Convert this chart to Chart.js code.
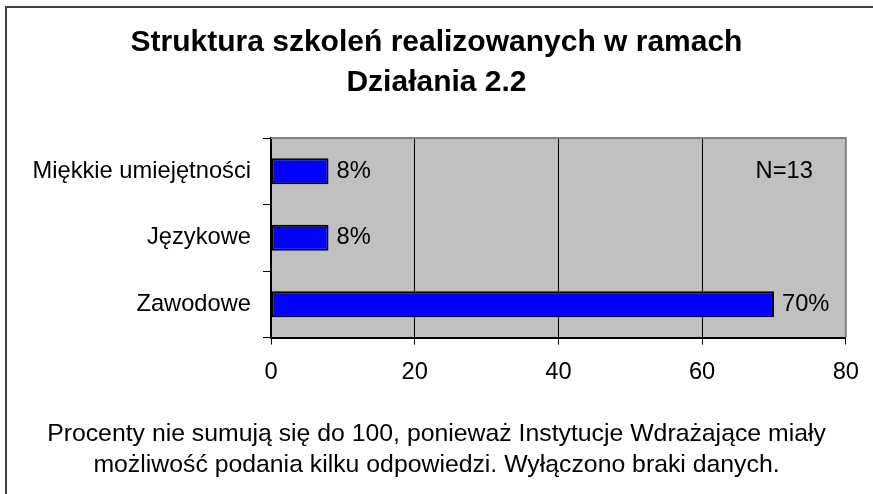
<!DOCTYPE html>
<html>
<head>
<meta charset="utf-8">
<script src="https://cdn.jsdelivr.net/npm/chart.js@4.4.1/dist/chart.umd.min.js"></script>
<style>
  html, body { margin: 0; padding: 0; background: #fff; overflow: hidden; }
  #wrap { position: relative; width: 873px; height: 494px; }
  #frame { position: absolute; left: 5px; top: 6px; width: 900px; height: 520px; border-left: 2px solid #404040; border-top: 2px solid #404040; box-sizing: border-box; }
  canvas { position: absolute; left: 0; top: 0; }
</style>
</head>
<body>
<div id="wrap">
  <div id="frame"></div>
  <canvas id="c" width="873" height="494"></canvas>
</div>
<script>
const titleLines = ["Struktura szkoleń realizowanych w ramach", "Działania 2.2"];
const categories = ["Miękkie umiejętności", "Językowe", "Zawodowe"];
const values = [8, 8, 70];
const valueLabels = ["8%", "8%", "70%"];
const xTicks = [0, 20, 40, 60, 80];
const noteText = "N=13";
const footnoteLines = ["Procenty nie sumują się do 100, ponieważ Instytucje Wdrażające miały", "możliwość podania kilku odpowiedzi. Wyłączono braki danych."];

const FONT = "'Liberation Sans', Arial, sans-serif";
const baseSize = 23.7;

const plotDeco = {
  id: 'plotDeco',
  beforeDraw(chart) {
    const { ctx, chartArea: a } = chart;
    ctx.save();
    ctx.fillStyle = '#C0C0C0';
    ctx.fillRect(a.left, a.top, a.right - a.left, a.bottom - a.top);
    ctx.restore();
  },
  afterDatasetsDraw(chart) {
    const { ctx, chartArea: a } = chart;
    const meta = chart.getDatasetMeta(0);
    ctx.save();
    ctx.font = baseSize + 'px ' + FONT;
    ctx.fillStyle = '#000';
    ctx.textBaseline = 'middle';
    ctx.textAlign = 'left';
    meta.data.forEach((bar, i) => {
      ctx.fillText(valueLabels[i], bar.x + 8, bar.y);
    });
    const yS = chart.scales.y;
    ctx.textAlign = 'right';
    ctx.fillText(noteText, a.right - 33, yS.getPixelForValue(0));
    ctx.strokeStyle = '#808080';
    ctx.lineWidth = 2;
    ctx.beginPath();
    ctx.moveTo(a.left, a.top);
    ctx.lineTo(a.right, a.top);
    ctx.lineTo(a.right, a.bottom);
    ctx.stroke();
    ctx.restore();
  }
};

new Chart(document.getElementById('c'), {
  type: 'bar',
  data: {
    labels: categories,
    datasets: [{
      data: values,
      backgroundColor: '#0000FF',
      borderColor: '#000000',
      borderWidth: 2,
      borderSkipped: false,
      barPercentage: 0.39,
      categoryPercentage: 1.0
    }]
  },
  options: {
    indexAxis: 'y',
    responsive: false,
    animation: false,
    devicePixelRatio: 1,
    layout: { padding: { left: 26, right: 26, top: 12, bottom: 0 } },
    plugins: {
      legend: { display: false },
      tooltip: { enabled: false },
      title: {
        display: true,
        text: titleLines,
        color: '#000',
        font: { family: FONT, size: 30, weight: 'bold', lineHeight: 1.35 },
        padding: { top: 10.25, bottom: 34.75 }
      },
      subtitle: {
        display: true,
        position: 'bottom',
        text: footnoteLines,
        color: '#000',
        font: { family: FONT, size: 24.8, weight: 'normal', lineHeight: 1.25 },
        padding: { top: 18, bottom: 13 }
      }
    },
    scales: {
      x: {
        type: 'linear',
        min: 0,
        max: 80,
        afterBuildTicks(scale) { scale.ticks = xTicks.map(v => ({ value: v })); },
        ticks: {
          color: '#000',
          font: { family: FONT, size: baseSize },
          padding: 14
        },
        grid: {
          color: (c) => (c.tick && (c.tick.value === 0 || c.tick.value === 80)) ? 'rgba(0,0,0,0)' : '#000',
          lineWidth: 1,
          tickColor: '#000',
          tickLength: 7,
          drawOnChartArea: true
        },
        border: { color: '#000', width: 2 }
      },
      y: {
        ticks: {
          color: '#000',
          font: { family: FONT, size: baseSize },
          padding: 12
        },
        grid: {
          offset: true,
          drawOnChartArea: false,
          tickColor: '#000',
          tickLength: 8,
          lineWidth: 1
        },
        border: { color: '#000', width: 2 },
        afterFit(scale) { scale.width = 245; }
      }
    }
  },
  plugins: [plotDeco]
});
</script>
</body>
</html>
